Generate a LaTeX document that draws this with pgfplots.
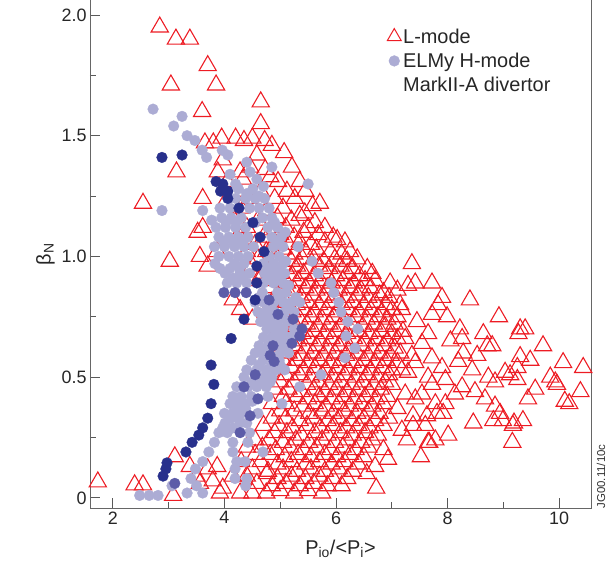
\documentclass[border=0pt]{standalone}
\usepackage{fontspec}
\setmainfont{Liberation Sans}
\usepackage{pgfplots}
\pgfplotsset{compat=1.18}
\definecolor{tri}{RGB}{237,28,36}
\definecolor{lightp}{RGB}{172,172,212}
\definecolor{medp}{RGB}{92,92,168}
\definecolor{darkp}{RGB}{40,48,140}
\begin{document}
\begin{tikzpicture}
\begin{axis}[
  width=501bp, height=508bp, scale only axis,
  xmin=1.59, xmax=10.57, ymin=-0.042, ymax=2.062,
  xtick={2,4,6,8,10}, minor xtick={3,5,7,9},
  ytick={0,0.5,1,1.5,2}, yticklabels={0,0.5,1.0,1.5,2.0},
  minor ytick={0.25,0.75,1.25,1.75},
  tick align=inside, xtick pos=bottom, ytick pos=left,
  major tick length=10bp, minor tick length=6bp,
  every tick/.style={black!65, line width=0.9pt},
  axis line style={black!60, line width=1pt},
  tick label style={font=\fontsize{18}{20}\selectfont, text=black!85},
  /pgf/number format/assume math mode=true,
  xlabel={P\textsubscript{io}/<P\textsubscript{i}>},
  ylabel={β\textsubscript{N}},
  xlabel style={yshift=-9bp},
  label style={font=\fontsize{20}{24}\selectfont, text=black!85},
  legend style={draw=none, fill=none, at={(rel axis cs:0.584,0.952)}, anchor=north west,
    font=\fontsize{20}{24}\selectfont, text=black!85, row sep=4.5pt},
  legend cell align=left,
]
% L-mode (red open triangles)
\addplot[only marks, mark=triangle, mark size=10pt, draw=tri, line width=1.1pt, forget plot] coordinates {
(2.84,1.95) (3.13,1.90) (3.38,1.90) (3.70,1.79) (3.04,1.71) (3.85,1.71) (4.65,1.64) (3.60,1.60) (4.65,1.55)
(3.65,1.47) (3.80,1.47) (3.95,1.49) (4.20,1.49) (4.35,1.48) (4.50,1.49) (4.72,1.48) (4.85,1.46) (5.07,1.43)
(4.58,1.42) (3.97,1.40) (4.46,1.37) (5.21,1.37) (3.14,1.35) (3.88,1.35) (4.28,1.35) (4.73,1.36) (4.82,1.33)
(4.33,1.32) (4.96,1.31) (5.35,1.31) (4.05,1.31) (4.20,1.27) (4.65,1.27) (5.12,1.27) (5.45,1.27)
(3.61,1.24) (4.45,1.24) (4.90,1.24) (5.26,1.24) (2.54,1.22) (4.00,1.22) (5.71,1.22)
(4.30,1.20) (4.75,1.19) (5.05,1.20) (5.44,1.18) (5.58,1.21)
(4.15,1.16) (4.60,1.15) (4.95,1.16) (5.20,1.15) (5.35,1.17) (5.62,1.14)
(3.61,1.12) (4.40,1.12) (4.85,1.11) (5.10,1.12) (5.50,1.12) (5.80,1.12)
(3.52,1.10) (4.25,1.09) (4.70,1.08) (5.00,1.09) (5.25,1.08) (5.42,1.10) (5.68,1.09) (5.95,1.08)
(4.55,1.05) (4.90,1.06) (5.15,1.05) (5.35,1.06) (5.55,1.05) (5.80,1.06) (6.02,1.07) (6.16,1.06)
(3.87,1.02) (4.40,1.02) (4.75,1.02) (5.05,1.03) (5.25,1.01) (5.45,1.02) (5.65,1.03) (5.90,1.02) (6.10,1.01) (6.25,1.02)
(3.02,0.98) (3.56,1.00) (4.60,0.99) (4.95,0.99) (5.20,0.98) (5.40,0.99) (5.60,0.99) (5.78,0.98) (5.98,0.99) (6.20,0.98) (6.38,0.99)
(3.70,0.96) (4.50,0.96) (4.85,0.96) (5.10,0.95) (5.30,0.96) (5.50,0.95) (5.70,0.96) (5.88,0.95) (6.08,0.96) (6.30,0.95) (6.56,0.95) (7.36,0.97)
(4.70,0.93) (5.00,0.93) (5.22,0.92) (5.42,0.93) (5.62,0.92) (5.82,0.93) (6.00,0.92) (6.20,0.93) (6.42,0.92) (6.65,0.93)
(4.60,0.90) (4.90,0.90) (5.12,0.89) (5.32,0.90) (5.52,0.89) (5.72,0.90) (5.92,0.89) (6.12,0.90) (6.32,0.89) (6.52,0.90) (6.70,0.90) (6.97,0.89) (7.42,0.89)
(4.80,0.87) (5.05,0.87) (5.25,0.86) (5.45,0.87) (5.65,0.86) (5.85,0.87) (6.05,0.86) (6.25,0.87) (6.45,0.86) (6.62,0.87) (6.85,0.85) (7.10,0.86) (7.29,0.88) (7.72,0.89)
(4.95,0.84) (5.18,0.84) (5.38,0.83) (5.58,0.84) (5.78,0.83) (5.98,0.84) (6.18,0.83) (6.38,0.84) (6.58,0.83) (6.78,0.84) (6.95,0.83) (7.90,0.83)
(4.15,0.82) (4.28,0.78) (4.50,0.74)
(4.85,0.81) (5.10,0.81) (5.30,0.80) (5.50,0.81) (5.70,0.80) (5.90,0.81) (6.10,0.80) (6.30,0.81) (6.50,0.80) (6.70,0.81) (6.90,0.80) (7.15,0.80) (7.83,0.80) (8.40,0.82)
(5.02,0.78) (5.22,0.77) (5.42,0.78) (5.62,0.77) (5.82,0.78) (6.02,0.77) (6.22,0.78) (6.42,0.77) (6.62,0.78) (6.82,0.77) (7.00,0.78) (7.18,0.78) (7.72,0.76) (7.99,0.75)
(4.90,0.75) (5.15,0.75) (5.35,0.74) (5.55,0.75) (5.75,0.74) (5.95,0.75) (6.15,0.74) (6.35,0.75) (6.55,0.74) (6.75,0.75) (6.92,0.74) (7.10,0.75) (8.92,0.75)
(5.05,0.72) (5.28,0.71) (5.48,0.72) (5.68,0.71) (5.88,0.72) (6.08,0.71) (6.28,0.72) (6.48,0.71) (6.68,0.72) (6.88,0.71) (7.05,0.72) (7.45,0.73) (8.22,0.70) (9.30,0.70)
(4.95,0.69) (5.20,0.69) (5.40,0.68) (5.60,0.69) (5.80,0.68) (6.00,0.69) (6.20,0.68) (6.40,0.69) (6.60,0.68) (6.80,0.69) (7.00,0.68) (7.20,0.69) (7.65,0.68) (8.64,0.68) (9.27,0.68) (9.39,0.70)
(5.10,0.66) (5.32,0.65) (5.52,0.66) (5.72,0.65) (5.92,0.66) (6.12,0.65) (6.32,0.66) (6.52,0.65) (6.72,0.66) (6.92,0.65) (7.10,0.66) (7.24,0.66) (8.26,0.66) (8.05,0.65)
(5.00,0.63) (5.25,0.63) (5.45,0.62) (5.65,0.63) (5.85,0.62) (6.05,0.63) (6.25,0.62) (6.45,0.63) (6.65,0.62) (6.85,0.63) (7.05,0.62) (7.54,0.64) (8.71,0.63) (8.80,0.63) (9.71,0.63)
(5.15,0.60) (5.38,0.59) (5.58,0.60) (5.78,0.59) (5.98,0.60) (6.18,0.59) (6.38,0.60) (6.58,0.59) (6.78,0.60) (6.98,0.59) (7.15,0.60) (7.36,0.59) (8.28,0.60) (8.53,0.59) (9.30,0.585)
(5.05,0.57) (5.30,0.57) (5.50,0.56) (5.70,0.57) (5.90,0.56) (6.10,0.57) (6.30,0.56) (6.50,0.57) (6.70,0.56) (6.90,0.57) (7.10,0.56) (7.72,0.58) (8.19,0.565) (9.48,0.57)
(5.20,0.54) (5.42,0.53) (5.62,0.54) (5.82,0.53) (6.02,0.54) (6.22,0.53) (6.42,0.54) (6.62,0.53) (6.82,0.54) (7.00,0.53) (7.42,0.56) (7.90,0.54) (9.25,0.54) (10.07,0.56) (10.43,0.54)
(5.10,0.51) (5.35,0.51) (5.55,0.50) (5.75,0.51) (5.95,0.50) (6.15,0.51) (6.35,0.50) (6.55,0.51) (6.75,0.50) (6.95,0.51) (7.18,0.53) (7.29,0.52) (8.44,0.53) (9.03,0.52) (9.12,0.51)
(5.00,0.48) (5.25,0.48) (5.48,0.47) (5.68,0.48) (5.88,0.47) (6.08,0.48) (6.28,0.47) (6.48,0.48) (6.68,0.47) (6.88,0.48) (7.65,0.50) (7.96,0.49) (8.73,0.50) (8.85,0.48) (9.25,0.49) (9.84,0.50) (9.93,0.48)
(4.90,0.45) (5.15,0.45) (5.38,0.44) (5.60,0.45) (5.80,0.44) (6.00,0.45) (6.20,0.44) (6.40,0.45) (6.60,0.44) (6.80,0.45) (7.00,0.47) (7.72,0.47) (8.26,0.46) (9.57,0.45) (9.96,0.47) (10.38,0.44)
(5.05,0.42) (5.30,0.42) (5.50,0.41) (5.70,0.42) (5.92,0.41) (6.12,0.42) (6.32,0.41) (6.52,0.42) (6.72,0.41) (6.92,0.42) (7.24,0.43) (7.54,0.43) (8.13,0.43) (8.49,0.44) (9.44,0.41) (10.10,0.40)
(4.85,0.39) (5.10,0.39) (5.40,0.38) (5.62,0.39) (5.82,0.38) (6.05,0.39) (6.25,0.38) (6.45,0.39) (6.65,0.38) (6.85,0.39) (7.42,0.41) (7.78,0.39) (7.96,0.39) (8.67,0.41) (8.85,0.38) (10.18,0.39)
(5.00,0.36) (5.25,0.36) (5.52,0.35) (5.75,0.36) (5.95,0.35) (6.15,0.36) (6.38,0.35) (6.58,0.36) (6.78,0.35) (7.10,0.37) (7.38,0.34) (7.63,0.34) (7.81,0.35) (8.94,0.35)
(4.85,0.33) (5.10,0.33) (5.35,0.32) (5.60,0.33) (5.85,0.32) (6.05,0.33) (6.28,0.32) (6.50,0.33) (6.70,0.32) (6.95,0.33) (7.92,0.35) (8.46,0.31) (8.82,0.32) (8.99,0.32) (9.35,0.32) (9.19,0.31)
(4.70,0.30) (4.98,0.30) (5.22,0.29) (5.48,0.30) (5.72,0.29) (5.95,0.30) (6.18,0.29) (6.40,0.30) (6.60,0.29) (6.85,0.30) (7.38,0.30) (7.60,0.30) (9.17,0.30)
(4.90,0.27) (5.12,0.27) (5.38,0.26) (5.62,0.27) (5.85,0.26) (6.08,0.27) (6.30,0.26) (6.52,0.27) (6.75,0.26) (7.18,0.28) (8.01,0.26)
(4.55,0.24) (4.80,0.24) (5.05,0.23) (5.28,0.24) (5.52,0.23) (5.75,0.24) (5.98,0.23) (6.20,0.24) (6.45,0.23) (6.65,0.24) (7.27,0.24) (7.65,0.23) (7.78,0.24) (9.16,0.23)
(4.40,0.21) (4.68,0.21) (4.92,0.20) (5.18,0.21) (5.42,0.20) (5.65,0.21) (5.90,0.20) (6.12,0.21) (6.35,0.20) (6.58,0.21) (6.85,0.20) (7.67,0.23)
(3.11,0.17) (4.55,0.18) (4.82,0.18) (5.08,0.17) (5.32,0.18) (5.55,0.17) (5.80,0.18) (6.02,0.17) (6.25,0.18) (6.50,0.17) (6.93,0.16) (7.52,0.17)
(3.38,0.13) (3.87,0.13) (4.30,0.15) (4.65,0.15) (4.95,0.14) (5.20,0.15) (5.45,0.14) (5.70,0.15) (5.92,0.14) (6.15,0.15) (6.40,0.14) (6.70,0.13)
(3.70,0.12) (4.50,0.12) (4.78,0.11) (5.05,0.12) (5.30,0.11) (5.55,0.12) (5.80,0.11) (6.05,0.12) (6.30,0.11) (6.55,0.10)
(3.50,0.09) (4.15,0.09) (4.40,0.09) (4.76,0.10) (4.95,0.08) (5.20,0.09) (5.45,0.08) (5.70,0.09) (5.95,0.08) (6.20,0.08)
(1.73,0.066) (2.39,0.054) (2.54,0.054) (3.56,0.06) (3.79,0.07) (3.97,0.04) (4.58,0.06) (4.85,0.05) (5.10,0.06) (5.35,0.05) (5.60,0.06) (5.85,0.05) (6.10,0.05)
(3.08,0.01) (3.92,0.02) (4.28,0.02) (4.50,0.02) (4.75,0.02) (5.00,0.03) (5.25,0.02) (5.50,0.03) (5.75,0.02) (6.72,0.04)
};
% ELMy H-mode (light purple)
\addplot[only marks, mark=*, mark size=5.4pt, draw=lightp, fill=lightp, line width=0.3pt, forget plot] coordinates {
(2.72,1.61) (3.24,1.58) (3.09,1.54) (3.33,1.50) (3.47,1.48) (3.60,1.44) (3.68,1.41) (3.96,1.44) (4.06,1.42)
(4.40,1.39) (4.85,1.37) (4.10,1.34) (4.46,1.35) (4.20,1.30) (4.58,1.32) (5.50,1.30) (4.51,1.28)
(2.88,1.19) (3.61,1.19) (3.77,1.15)
(4.25,1.28) (4.40,1.26) (4.62,1.25) (4.70,1.29)
(4.20,1.24) (4.38,1.24) (4.55,1.24) (4.72,1.24)
(3.92,1.20) (4.10,1.20) (4.45,1.20) (4.62,1.20) (4.80,1.20)
(3.95,1.16) (4.12,1.16) (4.30,1.16) (4.68,1.16) (4.85,1.16)
(4.03,1.14) (4.21,1.14) (4.55,1.14) (4.90,1.14)
(3.85,1.12) (4.02,1.12) (4.20,1.12) (4.38,1.12) (4.78,1.12) (4.95,1.12)
(3.90,1.08) (4.08,1.08) (4.25,1.08) (4.42,1.08) (4.85,1.08) (5.02,1.08) (5.09,1.10)
(3.99,1.06) (4.16,1.06) (4.33,1.06) (4.95,1.06)
(3.82,1.04) (4.00,1.04) (4.18,1.04) (4.35,1.04) (4.52,1.04) (4.88,1.04) (5.05,1.04) (5.32,1.04)
(3.90,1.00) (4.08,1.00) (4.25,1.00) (4.42,1.00) (4.80,1.00) (4.98,1.00) (5.10,0.98)
(3.83,0.97) (4.18,0.97) (4.35,0.97) (4.70,0.97) (4.88,0.97) (5.05,0.97) (5.57,0.98)
(3.92,0.95) (4.10,0.95) (4.27,0.95) (4.80,0.95) (4.97,0.95)
(4.01,0.93) (4.28,0.93) (4.45,0.93) (4.72,0.93) (4.90,0.93) (5.08,0.93) (5.68,0.93)
(4.15,0.91) (4.33,0.91) (4.80,0.91) (4.98,0.91)
(4.05,0.89) (4.22,0.89) (4.40,0.89) (4.70,0.89) (4.88,0.89) (5.05,0.89) (5.15,0.88) (5.91,0.89)
(4.68,0.85) (4.95,0.85) (5.10,0.85) (5.96,0.85)
(4.62,0.83) (4.97,0.83) (5.28,0.83)
(4.55,0.81) (4.70,0.81) (4.88,0.81) (5.05,0.81) (5.20,0.81) (5.35,0.81) (6.05,0.81)
(4.78,0.79) (5.15,0.79)
(4.60,0.77) (4.75,0.77) (4.90,0.77) (5.08,0.77) (5.25,0.77) (6.09,0.77)
(4.70,0.75) (4.87,0.75) (5.02,0.75)
(4.65,0.73) (4.80,0.73) (4.95,0.73) (5.12,0.73) (6.21,0.73)
(4.76,0.70) (4.90,0.70) (5.05,0.70) (5.25,0.70) (6.39,0.70)
(4.70,0.665) (4.85,0.665) (5.02,0.645)
(4.94,0.67) (5.08,0.67) (5.22,0.67) (6.18,0.67)
(4.62,0.63) (4.78,0.63) (4.95,0.63) (5.10,0.63) (6.34,0.62)
(4.55,0.60) (4.70,0.60) (5.00,0.60) (5.15,0.60)
(4.48,0.57) (4.69,0.57) (4.98,0.57) (6.16,0.58)
(4.62,0.55) (4.85,0.55) (5.00,0.55)
(4.40,0.53) (4.58,0.53) (4.75,0.53) (4.92,0.53) (5.08,0.53)
(4.35,0.50) (4.70,0.50) (4.85,0.50) (5.73,0.51)
(4.50,0.48) (4.66,0.48) (4.82,0.48)
(4.22,0.46) (4.42,0.46) (4.58,0.46) (4.75,0.46) (5.35,0.46)
(4.15,0.42) (4.30,0.42) (4.48,0.42) (4.78,0.42)
(4.50,0.40)
(4.10,0.39) (4.22,0.39) (4.38,0.39) (5.03,0.39)
(4.22,0.37) (4.38,0.37)
(4.00,0.35) (4.15,0.35) (4.30,0.35) (4.60,0.35)
(4.12,0.33) (4.25,0.33)
(4.01,0.31) (4.28,0.31) (4.40,0.31)
(3.97,0.29) (4.15,0.29)
(3.90,0.27) (4.05,0.27) (4.45,0.27)
(3.82,0.23) (4.15,0.23) (4.42,0.23)
(3.72,0.19) (4.15,0.19) (4.69,0.19)
(3.61,0.15) (4.37,0.15) (4.22,0.15)
(3.48,0.12) (4.19,0.12)
(3.40,0.08) (4.19,0.08) (4.40,0.08)
(3.06,0.05) (3.50,0.05) (4.38,0.05)
(2.48,0.01) (2.65,0.01) (2.81,0.01) (3.33,0.02) (3.61,0.02)
};
% medium purple
\addplot[only marks, mark=*, mark size=5.4pt, draw=medp, fill=medp, line width=0.3pt, forget plot] coordinates {
(3.99,0.85) (4.19,0.85) (4.39,0.85) (4.80,0.82) (4.96,0.76) (5.23,0.74) (5.39,0.70) (5.35,0.67)
(5.21,0.64) (4.87,0.63) (4.82,0.59) (4.89,0.565) (4.55,0.51) (4.35,0.46) (4.60,0.41) (4.46,0.34)
(4.28,0.27) (3.11,0.06)
};
% dark navy
\addplot[only marks, mark=*, mark size=5.4pt, draw=darkp, fill=darkp, line width=0.3pt, forget plot] coordinates {
(2.88,1.41) (3.24,1.42) (3.85,1.31) (3.97,1.30) (4.06,1.27) (3.93,1.27) (4.06,1.24) (4.26,1.20)
(4.51,1.14) (4.64,1.08) (4.71,1.02) (4.58,0.96) (4.58,0.89) (4.55,0.82) (4.35,0.74) (4.12,0.66)
(3.76,0.55) (3.81,0.47) (3.76,0.39) (3.70,0.33) (3.61,0.29) (3.54,0.26) (3.42,0.23) (3.31,0.19)
(2.97,0.145) (2.95,0.12) (2.90,0.09)
};
\addlegendimage{only marks, mark=triangle, mark size=8pt, draw=tri, line width=1pt}
\addlegendentry{L-mode}
\addlegendimage{only marks, mark=*, mark size=5.4pt, draw=lightp, fill=lightp}
\addlegendentry{ELMy H-mode}
\addlegendimage{empty legend}
\addlegendentry{MarkII-A divertor}
\end{axis}
\node[rotate=90, anchor=west, font=\fontsize{11.5}{13}\selectfont, text=black!80]
  at ([xshift=10bp,yshift=-4bp]current axis.south east) {JG00.11/10c};
\pgfresetboundingbox
\path[use as bounding box] ([xshift=-90bp,yshift=-59bp]current axis.south west) rectangle ([xshift=21bp]current axis.north east);
\end{tikzpicture}
\end{document}
